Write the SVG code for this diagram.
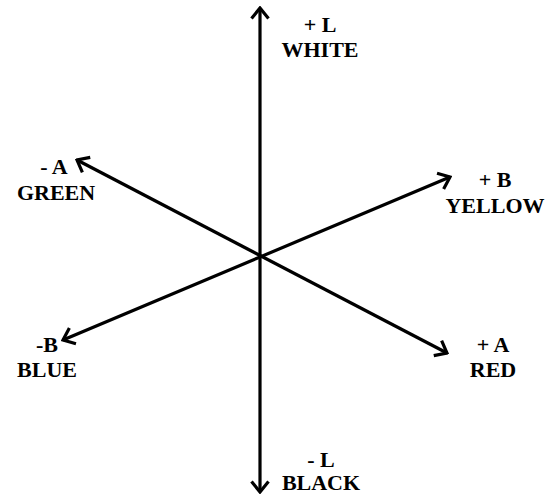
<svg xmlns="http://www.w3.org/2000/svg" width="552" height="495" viewBox="0 0 552 495">
<style>
.ax{stroke:#000;stroke-width:3.2;fill:none;marker-start:url(#ah);marker-end:url(#ah)}
.t{font-family:"Liberation Serif","Times New Roman",serif;font-weight:bold;font-size:22px;fill:#000;text-anchor:middle}
</style>
<defs>
<marker id="ah" viewBox="0 0 14 20" refX="12" refY="10" markerWidth="14" markerHeight="20" markerUnits="userSpaceOnUse" orient="auto-start-reverse">
<path d="M1.5,1.5 L12,10 L1.5,18.5" fill="none" stroke="#000" stroke-width="3.2"/>
</marker>
</defs>
<rect width="552" height="495" fill="#fff"/>
<g id="connectors">
<line class="ax" x1="260" y1="492" x2="260" y2="8"/>
<line class="ax" x1="447" y1="353" x2="77" y2="160"/>
<line class="ax" x1="63" y1="340" x2="450" y2="177"/>
</g>
<g id="white"><text class="t" x="320" y="32">+ L</text><text class="t" x="320" y="57">WHITE</text></g>
<g id="green"><text class="t" x="54" y="174">- A</text><text class="t" x="56" y="200">GREEN</text></g>
<g id="yellow"><text class="t" x="495" y="187">+ B</text><text class="t" x="495" y="213">YELLOW</text></g>
<g id="blue"><text class="t" x="47" y="352">-B</text><text class="t" x="47" y="377">BLUE</text></g>
<g id="red"><text class="t" x="493" y="352">+ A</text><text class="t" x="493" y="377">RED</text></g>
<g id="black"><text class="t" x="321" y="467">- L</text><text class="t" x="321" y="490">BLACK</text></g>
</svg>
